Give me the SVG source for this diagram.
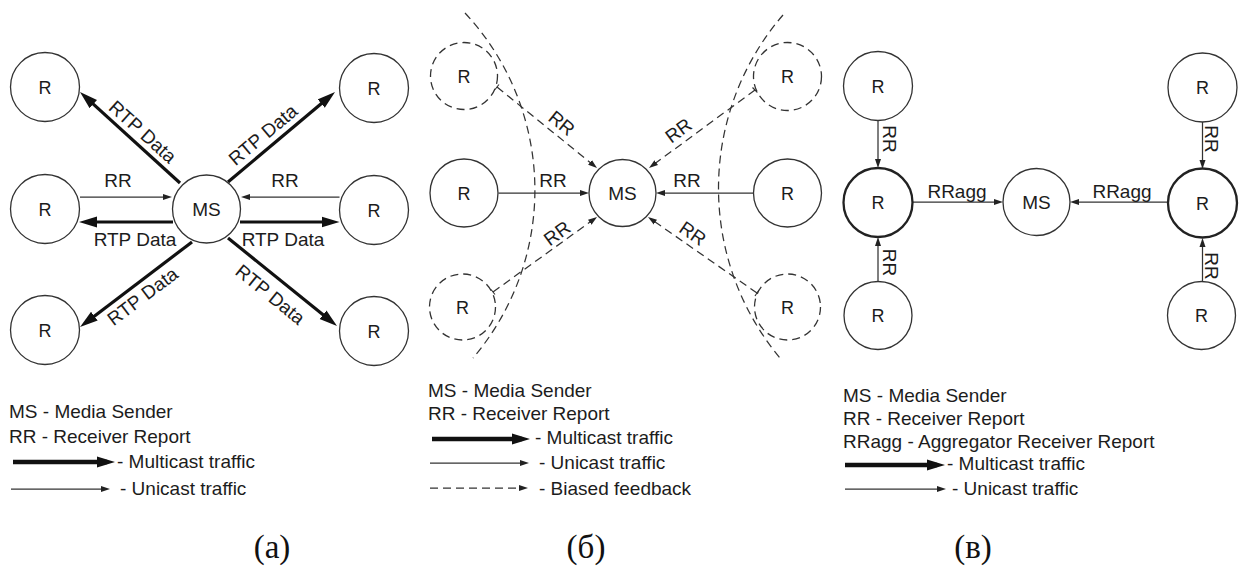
<svg xmlns="http://www.w3.org/2000/svg" width="1242" height="566" viewBox="0 0 1242 566">
  <style>
    text { font-family: "Liberation Sans", Arial, sans-serif; fill: #1c1c1c; font-size: 19px; }
    .node circle { fill: #fff; stroke: #333; stroke-width: 1.3; }
    .node text { font-size: 18px; text-anchor: middle; }
    .node.dashed circle { stroke-dasharray: 8 5; }
    .node.agg circle { stroke-width: 2.3; stroke: #222; }
    .lbl { text-anchor: middle; }
    .thick { stroke: #111; stroke-width: 3.2; fill: none; marker-end: url(#headThick); }
    .thin { stroke: #333; stroke-width: 1.25; fill: none; marker-end: url(#headThin); }
    .dash { stroke: #333; stroke-width: 1.25; fill: none; stroke-dasharray: 8 5; marker-end: url(#headThin); }
    .tick { stroke: #333; stroke-width: 1.2; fill: none; }
    .bound { stroke: #333; stroke-width: 1.25; fill: none; stroke-dasharray: 8 5; }
    .leg-thick { stroke: #111; stroke-width: 4.5; fill: none; marker-end: url(#headThick); }
    .caption { font-family: "Liberation Serif", "Times New Roman", serif; font-size: 33px; text-anchor: middle; fill: #111; }
  </style>
  <defs>
    <marker id="headThick" markerUnits="userSpaceOnUse" viewBox="0 -6 19 12" markerWidth="19" markerHeight="12" refX="10" refY="0" orient="auto">
      <path d="M0,-5.5 L18,0 L0,5.5 z" fill="#111"/>
    </marker>
    <marker id="headThin" markerUnits="userSpaceOnUse" viewBox="0 -4 10 8" markerWidth="10" markerHeight="8" refX="5" refY="0" orient="auto">
      <path d="M0,-3 L9,0 L0,3 z" fill="#222"/>
    </marker>
  </defs>

  <rect width="1242" height="566" fill="#fff"/>

  <!-- ===== Panel (a): multicast from the media sender ===== -->
  <g id="a-connectors">
    <line class="thick" x1="180" y1="183" x2="85.9" y2="97.4"/>
    <line class="thick" x1="228" y1="182" x2="328.9" y2="97.2"/>
    <line class="thick" x1="192" y1="242" x2="86.4" y2="322.2"/>
    <line class="thick" x1="228" y1="238" x2="330.8" y2="321"/>
    <line class="thick" x1="173" y1="222" x2="87" y2="222"/>
    <line class="thick" x1="240" y1="222" x2="331.5" y2="222"/>
    <line class="thin" x1="80" y1="197" x2="168" y2="197"/>
    <line class="thin" x1="339.5" y1="197" x2="245" y2="197"/>
    <text class="lbl" x="118" y="187">RR</text>
    <text class="lbl" x="285" y="187">RR</text>
    <text class="lbl" x="135" y="246">RTP Data</text>
    <text class="lbl" x="283" y="246">RTP Data</text>
    <text class="lbl" x="134.3" y="135.2" transform="rotate(42 134.3 141.2)">RTP Data</text>
    <text class="lbl" x="271.7" y="138.2" transform="rotate(-40 271.7 145.2)">RTP Data</text>
    <text class="lbl" x="134.5" y="305.6" transform="rotate(-37 134.5 285.6)">RTP Data</text>
    <text class="lbl" x="281.3" y="305" transform="rotate(39 281.3 281)">RTP Data</text>
  </g>
  <g id="a-ms" class="node"><circle cx="206.5" cy="209" r="34"/><text x="206.5" y="216" style="font-size:19px">MS</text></g>
  <g id="a-r1" class="node"><circle cx="45" cy="87" r="34.5"/><text x="45" y="93.5">R</text></g>
  <g id="a-r2" class="node"><circle cx="374" cy="88" r="34.5"/><text x="374" y="94.5">R</text></g>
  <g id="a-r3" class="node"><circle cx="45" cy="209" r="34.5"/><text x="45" y="215.5">R</text></g>
  <g id="a-r4" class="node"><circle cx="374" cy="210" r="34.5"/><text x="374" y="216.5">R</text></g>
  <g id="a-r5" class="node"><circle cx="45" cy="330" r="34.5"/><text x="45" y="336.5">R</text></g>
  <g id="a-r6" class="node"><circle cx="374" cy="331" r="34.5"/><text x="374" y="337.5">R</text></g>

  <g id="a-legend">
    <text x="9" y="418">MS - Media Sender</text>
    <text x="9" y="443">RR - Receiver Report</text>
    <line class="leg-thick" x1="13" y1="462" x2="107" y2="462"/>
    <text x="117" y="468">- Multicast traffic</text>
    <line class="thin" x1="11" y1="489" x2="106" y2="489"/>
    <text x="120" y="495">- Unicast traffic</text>
  </g>
  <text class="caption" x="272" y="558">(a)</text>

  <!-- ===== Panel (b): biased feedback ===== -->
  <g id="b-connectors">
    <path class="bound" d="M465,13 A259,259 0 0 1 473,358"/>
    <path class="bound" d="M783,15 A265,265 0 0 0 780,358"/>
    <line class="dash" x1="497" y1="87" x2="593.9" y2="165.5"/>
    <line class="dash" x1="755" y1="90" x2="652.2" y2="165.6"/>
    <line class="dash" x1="493" y1="292" x2="593.8" y2="219.3"/>
    <line class="dash" x1="757" y1="293" x2="651.3" y2="219.3"/>
    <line class="tick" x1="495" y1="89.5" x2="499" y2="84.5"/>
    <line class="tick" x1="757.5" y1="92.5" x2="752.5" y2="87.5"/>
    <line class="tick" x1="491" y1="289.5" x2="495" y2="294.5"/>
    <line class="tick" x1="759" y1="290" x2="755" y2="296"/>
    <line class="thin" x1="498.5" y1="193" x2="585" y2="193"/>
    <line class="thin" x1="753" y1="193" x2="660" y2="193"/>
    <text class="lbl" x="553" y="187">RR</text>
    <text class="lbl" x="687" y="187">RR</text>
    <text class="lbl" x="553.8" y="127" transform="rotate(39 553.8 133)">RR</text>
    <text class="lbl" x="685.9" y="134.7" transform="rotate(-36 685.9 140.7)">RR</text>
    <text class="lbl" x="562.7" y="238" transform="rotate(-36 562.7 241)">RR</text>
    <text class="lbl" x="686.1" y="237.9" transform="rotate(35 686.1 242.9)">RR</text>
  </g>
  <g id="b-ms" class="node"><circle cx="622.5" cy="193" r="33.5"/><text x="622.5" y="200" style="font-size:19px">MS</text></g>
  <g id="b-r1" class="node dashed"><circle cx="464" cy="76" r="33.5"/><text x="464" y="82.5">R</text></g>
  <g id="b-r2" class="node"><circle cx="464" cy="193" r="34"/><text x="464" y="199.5">R</text></g>
  <g id="b-r3" class="node dashed"><circle cx="462.5" cy="307" r="33"/><text x="462.5" y="313.5">R</text></g>
  <g id="b-r4" class="node dashed"><circle cx="787.5" cy="76.5" r="34"/><text x="787.5" y="83">R</text></g>
  <g id="b-r5" class="node"><circle cx="787.5" cy="193" r="34"/><text x="787.5" y="199.5">R</text></g>
  <g id="b-r6" class="node dashed"><circle cx="787.5" cy="307" r="33"/><text x="787.5" y="313.5">R</text></g>

  <g id="b-legend">
    <text x="428" y="397">MS - Media Sender</text>
    <text x="428" y="420">RR - Receiver Report</text>
    <line class="leg-thick" x1="432" y1="439" x2="522" y2="439"/>
    <text x="535" y="444">- Multicast traffic</text>
    <line class="thin" x1="430" y1="463" x2="525" y2="463"/>
    <text x="539" y="469">- Unicast traffic</text>
    <line class="dash" x1="430" y1="488" x2="524" y2="488"/>
    <text x="539" y="495">- Biased feedback</text>
  </g>
  <text class="caption" x="586" y="558">(б)</text>

  <!-- ===== Panel (c): aggregated receiver reports ===== -->
  <g id="c-connectors">
    <line class="thin" x1="878" y1="120.5" x2="878" y2="164"/>
    <line class="thin" x1="878" y1="281" x2="878" y2="241"/>
    <line class="thin" x1="1202.5" y1="122" x2="1202.5" y2="165"/>
    <line class="thin" x1="1202.5" y1="281" x2="1202.5" y2="242"/>
    <line class="thin" x1="913" y1="202" x2="999" y2="202"/>
    <line class="thin" x1="1168" y1="202" x2="1074" y2="202"/>
    <text class="lbl" x="0" y="-5" transform="translate(878 139) rotate(90)">RR</text>
    <text class="lbl" x="0" y="-5" transform="translate(878 262.5) rotate(90)">RR</text>
    <text class="lbl" x="0" y="-2.5" transform="translate(1202.5 139) rotate(90)">RR</text>
    <text class="lbl" x="0" y="-2.5" transform="translate(1202.5 266) rotate(90)">RR</text>
    <text class="lbl" x="957" y="198">RRagg</text>
    <text class="lbl" x="1122" y="198">RRagg</text>
  </g>
  <g id="c-ms" class="node"><circle cx="1036.5" cy="202" r="33.5"/><text x="1036.5" y="209" style="font-size:19px">MS</text></g>
  <g id="c-r1" class="node"><circle cx="878" cy="86" r="34.5"/><text x="878" y="92.5">R</text></g>
  <g id="c-agg1" class="node agg"><circle cx="878" cy="202.5" r="34.5"/><text x="878" y="209">R</text></g>
  <g id="c-r2" class="node"><circle cx="878" cy="315.5" r="34"/><text x="878" y="322">R</text></g>
  <g id="c-r3" class="node"><circle cx="1202.5" cy="87.5" r="34.5"/><text x="1202.5" y="94">R</text></g>
  <g id="c-agg2" class="node agg"><circle cx="1202.5" cy="203" r="34.5"/><text x="1202.5" y="209.5">R</text></g>
  <g id="c-r4" class="node"><circle cx="1201.5" cy="315.5" r="34"/><text x="1201.5" y="322">R</text></g>

  <g id="c-legend">
    <text x="843" y="402">MS - Media Sender</text>
    <text x="843" y="425">RR - Receiver Report</text>
    <text x="843" y="448">RRagg - Aggregator Receiver Report</text>
    <line class="leg-thick" x1="845" y1="465" x2="937" y2="465"/>
    <text x="947" y="470">- Multicast traffic</text>
    <line class="thin" x1="845" y1="489" x2="942" y2="489"/>
    <text x="952" y="495">- Unicast traffic</text>
  </g>
  <text class="caption" x="973" y="558">(в)</text>
</svg>
